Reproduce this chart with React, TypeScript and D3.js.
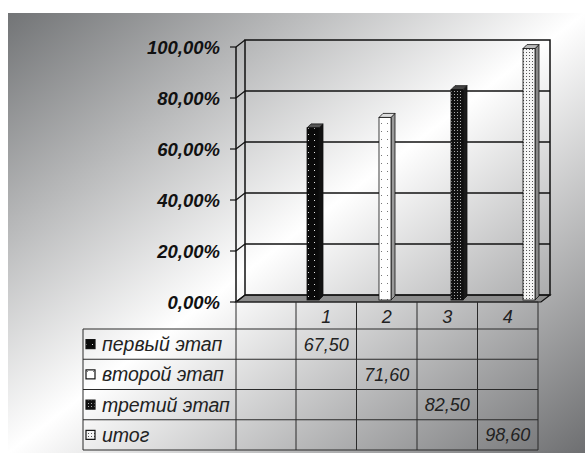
import React from 'react';
import * as d3 from 'd3';

// values
const categories = ['1', '2', '3', '4'];
const seriesNames = ['первый этап', 'второй этап', 'третий этап', 'итог'];
const values = [67.5, 71.6, 82.5, 98.6];
const yTicks = [0, 20, 40, 60, 80, 100];

const W = 585;
const H = 453;
const font = '"Liberation Sans", Arial, sans-serif';

// 3d depth offsets
const dx = -9;
const dy = 7;

const fmtPct = (v: number) => v.toFixed(2).replace('.', ',') + '%';
const fmtVal = (v: number) => v.toFixed(2).replace('.', ',');

const patterns = ['p1', 'p2', 'p3', 'p4'];
const sideFill = ['#111', '#9a9a9a', '#1a1a1a', '#8a8a8a'];
const topFill = ['#555', '#ddd', '#444', '#bbb'];

const App = () => {
  const y = d3.scaleLinear().domain([0, 100]).range([295, 40]);
  const xBar = d3.scalePoint<string>().domain(categories).range([315, 531]);
  const col = d3.scaleBand<string>().domain(categories).range([296, 538]);
  const row = d3.scaleBand<string>().domain(seriesNames).range([329, 450]);

  const wallL = 245;
  const wallR = 550;
  const legL = 83;
  const blankL = wallL + dx;
  const headTop = y(0) + dy;
  const headBot = 329;

  return (
    <svg width={W} height={H} style={{ position: 'absolute', left: 0, top: 0 }}>
      <defs>
        <linearGradient id="bg" x1="0" y1="0" x2="1" y2="1">
          <stop offset="0" stopColor="#727476" />
          <stop offset="0.5" stopColor="#ffffff" />
          <stop offset="1" stopColor="#6e6f71" />
        </linearGradient>
        <pattern id="p1" width="6" height="6" patternUnits="userSpaceOnUse">
          <rect width="6" height="6" fill="#0a0a0a" />
          <rect x="2" y="2" width="1" height="1" fill="#ddd" />
        </pattern>
        <pattern id="p2" width="6" height="8" patternUnits="userSpaceOnUse">
          <rect width="6" height="8" fill="#fff" />
          <rect x="3" y="3" width="1" height="1" fill="#777" />
        </pattern>
        <pattern id="p3" width="3" height="3" patternUnits="userSpaceOnUse">
          <rect width="3" height="3" fill="#111" />
          <rect x="1" y="1" width="1" height="1" fill="#aaa" />
        </pattern>
        <pattern id="p4" width="3" height="3" patternUnits="userSpaceOnUse">
          <rect width="3" height="3" fill="#f4f4f4" />
          <rect x="1" y="1" width="1" height="1" fill="#555" />
        </pattern>
      </defs>

      <rect x={8} y={13} width={W - 8} height={H - 13} fill="url(#bg)" />

      {/* floor */}
      <polygon
        points={`${wallL},${y(0)} ${wallR},${y(0)} ${wallR + dx},${y(0) + dy} ${blankL},${y(0) + dy}`}
        fill="#8c8c8c"
        stroke="#111"
        strokeWidth={1.2}
      />

      {/* back wall gridlines */}
      {yTicks.map((t) => (
        <g key={t}>
          {t > 0 && t < 100 && (
            <line x1={wallL} x2={wallR} y1={y(t)} y2={y(t)} stroke="#111" strokeWidth={1.5} />
          )}
          <line x1={wallL + dx} y1={y(t) + dy} x2={wallL} y2={y(t)} stroke="#111" strokeWidth={1.2} />
          <line x1={wallL + dx - 6} x2={wallL + dx} y1={y(t) + dy} y2={y(t) + dy} stroke="#111" strokeWidth={1.2} />
          <text
            x={220}
            y={y(t) + dy}
            dy="0.36em"
            textAnchor="end"
            fontFamily={font}
            fontSize={18.5}
            fontWeight="bold"
            fontStyle="italic"
            fill="#111"
          >
            {fmtPct(t)}
          </text>
        </g>
      ))}
      <rect x={wallL} y={y(100)} width={wallR - wallL} height={y(0) - y(100)} fill="none" stroke="#111" strokeWidth={1.5} />
      <line x1={wallL + dx} x2={wallL + dx} y1={y(100) + dy} y2={y(0) + dy} stroke="#111" strokeWidth={1.5} />

      {/* bars */}
      {values.map((v, i) => {
        const cx = xBar(categories[i])!;
        const top = y(v) + 5;
        const bot = y(0) + 5;
        const fl = cx - 8;
        const fr = cx + 4;
        const d = 4;
        return (
          <g key={i} stroke="#111" strokeWidth={0.8}>
            <polygon points={`${fr},${top} ${fr + d},${top - d} ${fr + d},${bot - d} ${fr},${bot}`} fill={sideFill[i]} />
            <polygon points={`${fl},${top} ${fl + d},${top - d} ${fr + d},${top - d} ${fr},${top}`} fill={topFill[i]} />
            <rect x={fl} y={top} width={fr - fl} height={bot - top} fill={`url(#${patterns[i]})`} />
          </g>
        );
      })}

      {/* data table */}
      <g stroke="#2a2a2a" strokeWidth={1}>
        <line x1={blankL} x2={538} y1={headTop} y2={headTop} />
        {seriesNames.map((s) => (
          <line key={s} x1={legL} x2={538} y1={row(s)!} y2={row(s)!} />
        ))}
        <line x1={legL} x2={538} y1={450} y2={450} />
        <line x1={legL} x2={legL} y1={headBot} y2={450} />
        <line x1={blankL} x2={blankL} y1={headTop} y2={450} />
        {categories.map((c) => (
          <line key={c} x1={col(c)!} x2={col(c)!} y1={headTop} y2={450} />
        ))}
        <line x1={538} x2={538} y1={headTop} y2={450} />
      </g>

      {categories.map((c) => (
        <text
          key={c}
          x={col(c)! + col.bandwidth() / 2}
          y={(headTop + headBot) / 2 + 1}
          dy="0.36em"
          textAnchor="middle"
          fontFamily={font}
          fontSize={18}
          fontStyle="italic"
          fill="#222"
        >
          {c}
        </text>
      ))}

      {seriesNames.map((s, i) => {
        const cy = row(s)! + row.bandwidth() / 2;
        return (
          <g key={s}>
            <rect x={86} y={cy - 4.5} width={9} height={9} fill={`url(#${patterns[i]})`} stroke="#111" strokeWidth={1.2} />
            <text x={102} y={cy} dy="0.36em" fontFamily={font} fontSize={19.5} fontStyle="italic" fill="#222">
              {s}
            </text>
            <text
              x={col(categories[i])! + col.bandwidth() / 2}
              y={cy}
              dy="0.36em"
              textAnchor="middle"
              fontFamily={font}
              fontSize={18}
              fontStyle="italic"
              fill="#222"
            >
              {fmtVal(values[i])}
            </text>
          </g>
        );
      })}
    </svg>
  );
};

export default App;
